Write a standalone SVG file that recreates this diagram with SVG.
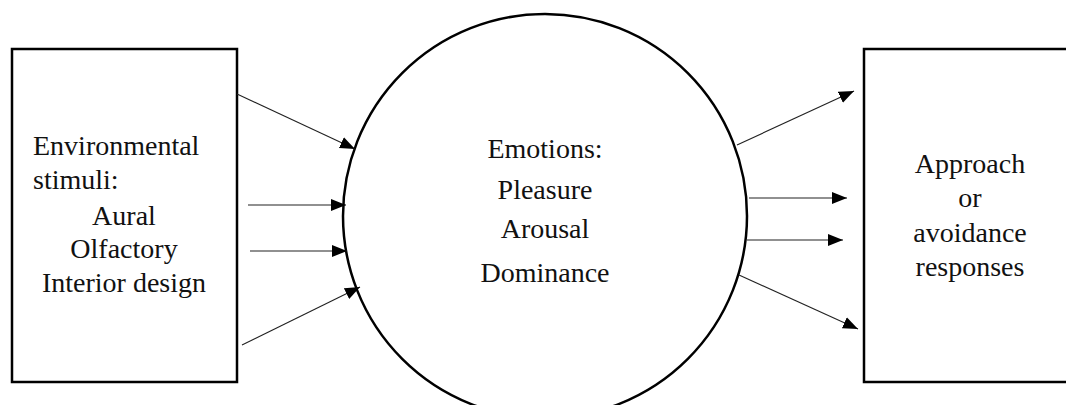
<svg xmlns="http://www.w3.org/2000/svg" width="1066" height="405" viewBox="0 0 1066 405">
<style>
.box{fill:#fff;stroke:#000;stroke-width:2.5}
.t{font-family:"Liberation Serif","DejaVu Serif",serif;font-size:28px;fill:#111}
.c{text-anchor:middle}
.ln{stroke:#222;stroke-width:1.1;fill:none;marker-end:url(#ah)}
</style>
<defs>
<marker id="ah" markerUnits="userSpaceOnUse" markerWidth="16" markerHeight="13" refX="15" refY="6" orient="auto" viewBox="0 0 16 12">
<path d="M0,0 L15,6 L0,12 z" fill="#000"/>
</marker>
</defs>
<rect width="1066" height="405" fill="#fff"/>
<g id="stimuli">
<rect class="box" x="12" y="49" width="225" height="333"/>
<text class="t" x="33" y="155">Environmental</text>
<text class="t" x="33" y="189">stimuli:</text>
<text class="t c" x="124" y="225">Aural</text>
<text class="t c" x="124" y="258">Olfactory</text>
<text class="t c" x="124" y="292">Interior design</text>
</g>
<g id="emotions">
<circle cx="545" cy="216" r="202" fill="#fff" stroke="#000" stroke-width="2.5"/>
<text class="t c" x="545" y="158">Emotions:</text>
<text class="t c" x="545" y="199">Pleasure</text>
<text class="t c" x="545" y="238">Arousal</text>
<text class="t c" x="545" y="282">Dominance</text>
</g>
<g id="responses">
<rect class="box" x="864" y="49" width="210" height="333"/>
<text class="t c" x="970" y="173">Approach</text>
<text class="t c" x="970" y="207">or</text>
<text class="t c" x="970" y="242">avoidance</text>
<text class="t c" x="970" y="276">responses</text>
</g>
<g id="connectors">
<line class="ln" x1="237" y1="94" x2="355" y2="149"/>
<line class="ln" x1="248" y1="205" x2="346" y2="205"/>
<line class="ln" x1="250" y1="251" x2="347" y2="251"/>
<line class="ln" x1="242" y1="345" x2="360" y2="287"/>
<line class="ln" x1="737" y1="145" x2="854" y2="91"/>
<line class="ln" x1="749" y1="198" x2="847" y2="198"/>
<line class="ln" x1="747" y1="240" x2="843" y2="240"/>
<line class="ln" x1="739" y1="275" x2="858" y2="329"/>
</g>
</svg>
